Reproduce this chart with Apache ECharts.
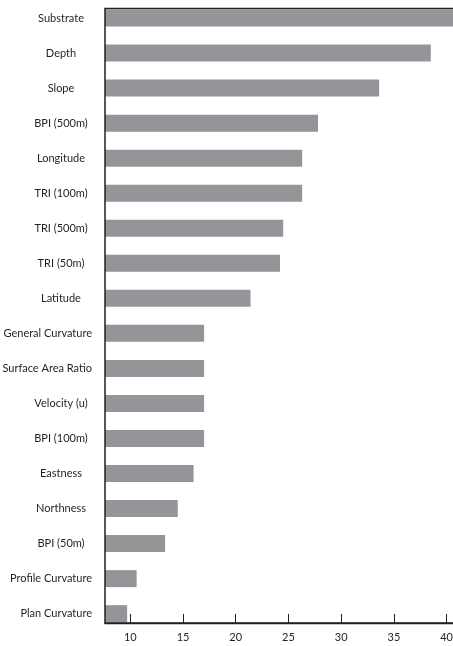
<!DOCTYPE html>
<html>
<head>
    <meta charset="UTF-8">
    <title>Variable importance</title>
    <script src="https://cdn.jsdelivr.net/npm/echarts@6/dist/echarts.min.js"></script>
    <style>html, body {margin: 0; padding: 0; background: #fff;} #main {width: 453px; height: 646px;}</style>
</head>
<body>
<div id="main"></div>
<script>
    // 变量名，从上到下
    var categories = ['Substrate', 'Depth', 'Slope', 'BPI (500m)', 'Longitude', 'TRI (100m)', 'TRI (500m)', 'TRI (50m)',
        'Latitude', 'General Curvature', 'Surface Area Ratio', 'Velocity (u)', 'BPI (100m)', 'Eastness', 'Northness',
        'BPI (50m)', 'Profile Curvature', 'Plan Curvature'];
    var values = [41, 38.5, 33.6, 27.8, 26.3, 26.3, 24.5, 24.2, 21.4, 17.0, 17.0, 17.0, 17.0, 16.0, 14.5, 13.3, 10.6, 9.7];
    var xTicks = [10, 15, 20, 25, 30, 35, 40];

    var xMin = 7.6, xMax = 40.7;
    var ink = '#231f20';
    var labelFont = 'Lato';

    // 标签大致居中，长的往左挪
    var ctx = document.createElement('canvas').getContext('2d');
    ctx.font = '11px ' + labelFont;
    var axisX = 105, centerX = 61, maxRight = 92;
    var catData = categories.map(function (name) {
        var w = ctx.measureText(name).width;
        var right = Math.min(centerX + w / 2, maxRight);
        return {value: name, textStyle: {padding: [0, axisX - right, 0, 0]}};
    });

    var myChart = echarts.init(document.getElementById('main'));
    var option = {
        animation: false,
        grid: [
            // 柱子
            {left: 105, right: -1, top: 0.5, height: 630.7, outerBoundsMode: 'none'},
            // 坐标轴 + 边框（右边框在画布外）
            {left: 105, right: -1, top: 8.5, bottom: 23, outerBoundsMode: 'none', z: 10,
             show: true, borderColor: ink, borderWidth: 1.5, backgroundColor: 'transparent'}
        ],
        xAxis: [
            {gridIndex: 0, type: 'value', min: xMin, max: xMax, show: false},
            {
                gridIndex: 1, type: 'value', min: xMin, max: xMax, position: 'bottom', z: 10,
                axisLine: {show: true, onZero: false, lineStyle: {color: ink, width: 1.3}},
                axisTick: {show: true, inside: true, length: 9, customValues: xTicks, lineStyle: {color: ink, width: 1}},
                axisLabel: {customValues: xTicks, color: ink, fontFamily: labelFont, fontSize: 11, margin: 9},
                splitLine: {show: false}
            }
        ],
        yAxis: [
            {
                gridIndex: 0, type: 'category', inverse: true, data: catData,
                axisLine: {show: false}, axisTick: {show: false},
                axisLabel: {align: 'right', margin: 0, color: ink, fontFamily: labelFont, fontSize: 11, interval: 0}
            },
            {gridIndex: 1, type: 'value', min: 0, max: 1, show: false}
        ],
        series: [
            {
                type: 'bar', xAxisIndex: 0, yAxisIndex: 0,
                data: values, barWidth: 17,
                itemStyle: {color: '#939598'},
                silent: true
            }
        ]
    };
    myChart.setOption(option);
</script>
</body>
</html>
